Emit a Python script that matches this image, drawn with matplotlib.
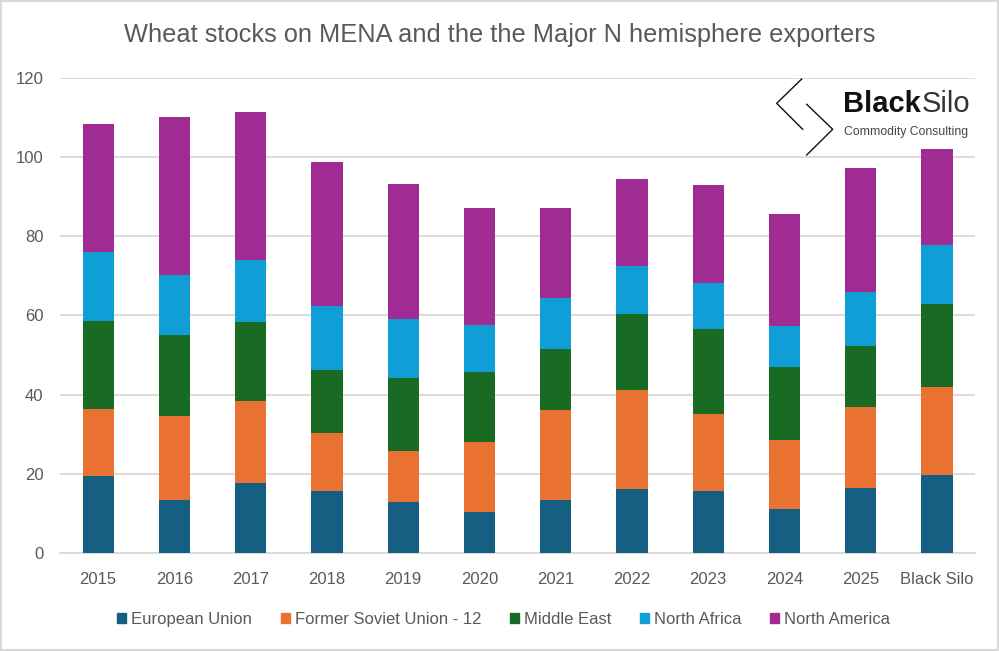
import matplotlib
matplotlib.use("Agg")
import matplotlib.pyplot as plt
import numpy as np
from matplotlib.lines import Line2D
from matplotlib.patches import Rectangle

categories = ["2015", "2016", "2017", "2018", "2019", "2020", "2021", "2022",
              "2023", "2024", "2025", "Black Silo"]
european_union = [19.5, 13.5, 17.7, 15.7, 13.0, 10.4, 13.5, 16.2, 15.7, 11.2, 16.5, 19.8]
former_soviet_union = [16.9, 21.2, 20.7, 14.7, 12.8, 17.7, 22.7, 25.0, 19.5, 17.4, 20.4, 22.2]
middle_east = [22.2, 20.4, 20.0, 15.9, 18.4, 17.7, 15.4, 19.2, 21.4, 18.4, 15.4, 20.9]
north_africa = [17.4, 15.2, 15.6, 16.1, 14.9, 11.8, 12.8, 12.1, 11.6, 10.4, 13.6, 14.9]
north_america = [32.3, 39.8, 37.4, 36.3, 34.1, 29.5, 22.7, 21.9, 24.7, 28.2, 31.3, 24.2]

series = [
    ("European Union", european_union, "#156082"),
    ("Former Soviet Union - 12", former_soviet_union, "#E97132"),
    ("Middle East", middle_east, "#196B24"),
    ("North Africa", north_africa, "#0F9ED5"),
    ("North America", north_america, "#A02B93"),
]

FONT = ["Liberation Sans Narrow", "Liberation Sans", "DejaVu Sans"]
plt.rcParams["font.family"] = FONT
TXT = "#595959"

fig = plt.figure(figsize=(9.99, 6.51), dpi=100)
ax = fig.add_axes([0.0601, 0.1505, 0.976 - 0.0601, 0.8806 - 0.1505])

x = np.arange(len(categories))
bottom = np.zeros(len(categories))
for name, vals, col in series:
    ax.bar(x, vals, width=0.41, bottom=bottom, color=col, label=name, zorder=3)
    bottom += np.array(vals)

ax.set_ylim(0, 120)
ax.set_xlim(-0.5, len(categories) - 0.5)
ax.set_yticks(np.arange(0, 121, 20))
ax.yaxis.grid(True, color="#d9d9d9", linewidth=1.3, zorder=0)
ax.set_axisbelow(True)
for s in ["top", "right", "left"]:
    ax.spines[s].set_visible(False)
ax.spines["bottom"].set_color("#d9d9d9")
ax.spines["bottom"].set_linewidth(1.3)
ax.tick_params(axis="both", length=0, labelsize=12, labelcolor=TXT)
ax.tick_params(axis="y", pad=12)
ax.tick_params(axis="x", pad=14)
ax.set_xticks(x)
ax.set_xticklabels(categories)

fig.text(0.5, 0.946, "Wheat stocks on MENA and the the Major N hemisphere exporters",
         ha="center", va="center", fontsize=18.3, color=TXT)

fig.legend(handles=[Rectangle((0, 0), 1, 1, color=c) for _, _, c in series],
           labels=[n for n, _, _ in series], loc="center",
           bbox_to_anchor=(0.504, 0.049), ncol=5, frameon=False,
           fontsize=12, handlelength=0.55, handleheight=0.55,
           handletextpad=0.3, columnspacing=1.7, labelcolor=TXT)

# Logo
def px(xp, yp):
    return xp / 999, 1 - yp / 651
for pts in [[(801.7, 79), (776.7, 103.3), (802.7, 129.3)],
            [(806.7, 104.3), (832.7, 129.3), (806.7, 155)]]:
    xs = [px(a, b)[0] for a, b in pts]
    ys = [px(a, b)[1] for a, b in pts]
    fig.add_artist(Line2D(xs, ys, color="#111111", linewidth=1.0))
t1 = fig.text(*px(843, 104), "Black", fontsize=21, fontweight="bold",
              color="#111111", ha="left", va="center")
fig.canvas.draw()
bb = t1.get_window_extent()
fig.text(bb.x1 / 999 + 0.001, px(0, 104)[1], "Silo", fontsize=21, fontweight="light",
         color="#333333", ha="left", va="center")
fig.text(*px(844, 132), "Commodity Consulting", fontsize=8.8, color="#444444",
         ha="left", va="center")

# Border
fig.add_artist(Rectangle((0.001, 0.001), 0.998, 0.998, transform=fig.transFigure,
                         fill=False, edgecolor="#d9d9d9", linewidth=1.5))

fig.savefig("out.png", dpi=100)
